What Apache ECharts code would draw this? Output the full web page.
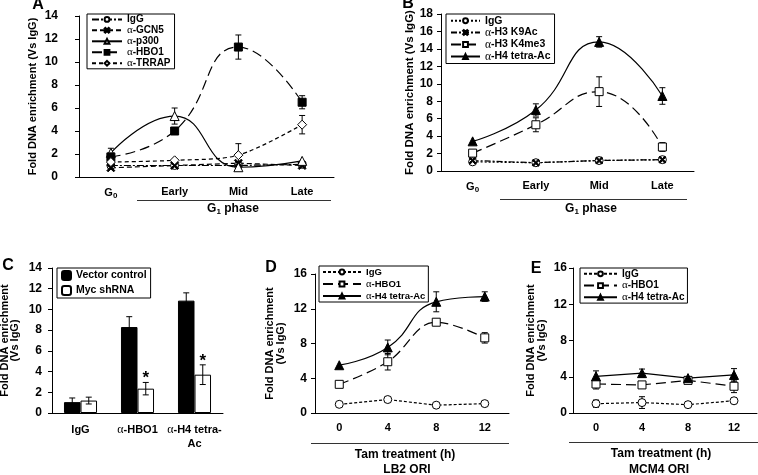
<!DOCTYPE html>
<html><head><meta charset="utf-8">
<script src="https://cdn.jsdelivr.net/npm/echarts@6/dist/echarts.min.js"></script>
<style>html,body{margin:0;padding:0;background:#fff}#c{width:758px;height:475px}</style>
</head><body><div id="c"></div>
<script>
const FONT = '"Liberation Sans", Arial, sans-serif';
const SERIF = '"Liberation Serif", "Times New Roman", serif';

// ---------- Panel A ----------
const phases = ['G0', 'Early', 'Mid', 'Late'];
const aIgG = [1.0, 1.0, 1.0, 1.1];
const aGCN5 = [0.8, 1.0, 1.2, 1.0];
const aP300 = [2.1, 5.3, 0.85, 1.4];
const aP300Err = [0.4, 0.7, 0, 0];
const aHBO1 = [1.75, 4.0, 11.3, 6.5];
const aHBO1Err = [0, 0, 1.05, 0.57];
const aTRRAP = [1.3, 1.45, 1.9, 4.55];
const aTRRAPErr = [0, 0, 1.0, 0.8];

// ---------- Panel B ----------
const bIgG = [1.05, 0.95, 1.2, 1.3];
const bK9Ac = [1.2, 0.95, 1.2, 1.3];
const bK4me3 = [2.05, 5.3, 9.1, 2.75];
const bK4me3Err = [0, 0.8, 1.7, 0.5];
const bH4 = [3.4, 7.0, 14.8, 8.6];
const bH4Err = [0, 0.7, 0.6, 0.95];

// ---------- Panel C ----------
const cCats = ['IgG', 'α-HBO1', 'α-H4 tetra-\nAc'];
const cVector = [1.05, 8.3, 10.85];
const cVectorErr = [0.4, 1.0, 0.75];
const cMyc = [1.2, 2.35, 3.7];
const cMycErr = [0.33, 0.6, 0.95];
const cSig = ['', '*', '*'];

// ---------- Panels D & E ----------
const hours = ['0', '4', '8', '12'];
const dIgG = [1.0, 1.55, 0.9, 1.08];
const dIgGErr = [0, 0.3, 0, 0];
const dHBO1 = [3.3, 5.9, 10.45, 8.65];
const dHBO1Err = [0.3, 0.95, 0, 0.6];
const dH4 = [5.5, 7.55, 12.8, 13.4];
const dH4Err = [0, 0.85, 1.15, 0.55];

const eIgG = [1.03, 1.15, 0.92, 1.35];
const eIgGErr = [0.4, 0.65, 0, 0];
const eHBO1 = [3.2, 3.1, 3.6, 2.95];
const eHBO1Err = [0.55, 0, 0, 0.7];
const eH4 = [4.05, 4.4, 3.85, 4.2];
const eH4Err = [0.6, 0.45, 0, 0.7];

const yTitle = 'Fold DNA enrichment (Vs IgG)';
const yTitle2 = 'Fold DNA enrichment\n(Vs IgG)';

const XSYM = 'path://M0,1.5L1.5,0L5,3.5L8.5,0L10,1.5L6.5,5L10,8.5L8.5,10L5,6.5L1.5,10L0,8.5L3.5,5Z';

const alphaRich = (size) => ({ a: { fontFamily: SERIF, fontWeight: 'normal', fontSize: size + 1, color: '#000' } });
const withAlpha = (s) => s.replace('α', '{a|α}');

function xCat(gi, data, extra) {
  return Object.assign({
    type: 'category', gridIndex: gi, data: data, boundaryGap: true,
    axisLine: { lineStyle: { color: '#000', width: 1 } },
    axisTick: { length: 5, lineStyle: { color: '#000' } },
    axisLabel: { color: '#000', fontWeight: 'bold', fontSize: 11, fontFamily: FONT, margin: 9, interval: 0 }
  }, extra || {});
}
function yVal(gi, max, interval, margin, nameGap, nameSize, name, lh) {
  return {
    type: 'value', gridIndex: gi, min: 0, max: max, interval: interval,
    name: name, nameLocation: 'middle', nameGap: nameGap, nameRotate: 90,
    nameTextStyle: { color: '#000', fontWeight: 'bold', fontSize: nameSize, fontFamily: FONT, lineHeight: lh || (nameSize + 1) },
    axisLine: { show: true, lineStyle: { color: '#000' } },
    axisTick: { show: true, length: 4, lineStyle: { color: '#000' } },
    splitLine: { show: false },
    axisLabel: { color: '#000', fontWeight: 'bold', fontSize: 12, fontFamily: FONT, margin: margin }
  };
}
function lineS(name, gi, data, dash, symbol, smooth, filled, size) {
  return {
    type: 'line', name: name, xAxisIndex: gi, yAxisIndex: gi, data: data,
    smooth: smooth, symbol: symbol, symbolSize: size || 8, z: 3,
    lineStyle: { color: '#000', width: 1.2, type: dash },
    itemStyle: { color: filled ? '#000' : '#fff', borderColor: '#000', borderWidth: 1 }
  };
}
function errS(gi, vals, errs, offset, marks) {
  return {
    type: 'custom', xAxisIndex: gi, yAxisIndex: gi, z: 2, silent: true,
    data: vals.map((v, i) => [i, v - errs[i], v + errs[i]]),
    encode: { x: 0, y: [1, 2] },
    renderItem: function (params, api) {
      const i = params.dataIndex;
      const children = [];
      const band = api.size([1, 0])[0];
      const top = api.coord([api.value(0), api.value(2)]);
      const bot = api.coord([api.value(0), api.value(1)]);
      const cx = top[0] + (offset || 0) * band;
      const st = { stroke: '#000', lineWidth: 1 };
      if (errs[i] > 0) {
        children.push({ type: 'line', shape: { x1: cx, y1: top[1], x2: cx, y2: bot[1] }, style: st });
        children.push({ type: 'line', shape: { x1: cx - 3, y1: top[1], x2: cx + 3, y2: top[1] }, style: st });
        children.push({ type: 'line', shape: { x1: cx - 3, y1: bot[1], x2: cx + 3, y2: bot[1] }, style: st });
      }
      if (marks && marks[i]) {
        children.push({ type: 'text', x: cx, y: top[1] - 4,
          style: { text: marks[i], textAlign: 'center', textVerticalAlign: 'middle', font: 'bold 17px ' + FONT, fill: '#000' } });
      }
      return { type: 'group', children: children };
    }
  };
}
function legendOf(left, top, names, size, lh, opts) {
  return Object.assign({
    orient: 'vertical', left: left, top: top, data: names,
    formatter: n => withAlpha(n.slice(2)),
    borderColor: '#000', borderWidth: 1, borderRadius: 0,
    padding: [1, 4, 1, 4], itemGap: 0, itemWidth: 30, itemHeight: 6,
    selectedMode: false,
    textStyle: { color: '#000', fontWeight: 'bold', fontSize: size, fontFamily: FONT, lineHeight: lh, rich: alphaRich(size) }
  }, opts || {});
}

const phaseLabel = {
  formatter: v => v === 'G0' ? '{g|G}{s|0}' : v,
  rich: {
    g: { fontSize: 11, fontWeight: 'bold', fontFamily: FONT, color: '#000' },
    s: { fontSize: 8, fontWeight: 'bold', fontFamily: FONT, color: '#000', padding: [6, 0, 0, 0] }
  }
};

const chart = echarts.init(document.getElementById('c'));
const richSub = {
  g: { font: 'bold 12px ' + FONT, fill: '#000' },
  s: { font: 'bold 8px ' + FONT, fill: '#000', padding: [6, 0, 0, 0] }
};
function gtext(x, y, text, size, rich) {
  return { type: 'text', x: x, y: y, silent: true,
    style: { text: text, textAlign: 'center', textVerticalAlign: 'middle', font: 'bold ' + size + 'px ' + FONT, fill: '#000', rich: rich } };
}
function gline(x1, y1, x2, y2) {
  return { type: 'line', silent: true, shape: { x1: x1, y1: y1, x2: x2, y2: y2 }, style: { stroke: '#333', lineWidth: 1 } };
}
function gridAt(left, top, width, height) {
  return { left: left, top: top, width: width, height: height, containLabel: false, outerBoundsMode: 'none' };
}

chart.setOption({
  animation: false,
  backgroundColor: '#fff',
  grid: [
    gridAt(79, 16, 255, 161),
    gridAt(441, 14, 253, 157),
    gridAt(52, 268, 171, 145),
    gridAt(315, 274, 194, 139),
    gridAt(573, 268, 184, 145)
  ],
  xAxis: [
    xCat(0, phases, { axisLabel: Object.assign({ color: '#000', fontWeight: 'bold', fontSize: 11, fontFamily: FONT, margin: 9, interval: 0 }, phaseLabel) }),
    xCat(1, phases, { axisLabel: Object.assign({ color: '#000', fontWeight: 'bold', fontSize: 11, fontFamily: FONT, margin: 9, interval: 0 }, phaseLabel) }),
    xCat(2, cCats, { axisLabel: { color: '#000', fontWeight: 'bold', fontSize: 11, fontFamily: FONT, margin: 10, interval: 0, lineHeight: 14,
      formatter: v => withAlpha(v), rich: { a: { fontFamily: SERIF, fontWeight: 'normal', fontSize: 12, color: '#000', lineHeight: 14 } } } }),
    xCat(3, hours),
    xCat(4, hours)
  ],
  yAxis: [
    yVal(0, 14, 2, 21, 40, 11, yTitle),
    yVal(1, 18, 2, 8, 24, 11.5, yTitle),
    yVal(2, 14, 2, 10, 32, 11, yTitle2, 10),
    yVal(3, 16, 4, 8, 29, 11, yTitle2, 10.5),
    yVal(4, 16, 4, 6, 26, 11, yTitle2, 10.5)
  ],
  legend: [
    legendOf(87, 14, ['A:IgG', 'A:α-GCN5', 'A:α-p300', 'A:α-HBO1', 'A:α-TRRAP'], 10, 10.8, { padding: [0, 4, 0, 4] }),
    legendOf(446, 14, ['B:IgG', 'B:α-H3 K9Ac', 'B:α-H3 K4me3', 'B:α-H4 tetra-Ac'], 10.5, 11.5, { itemWidth: 29 }),
    legendOf(57, 268, ['C:Vector control', 'C:Myc shRNA'], 10.5, 15, { itemWidth: 9, itemHeight: 9, padding: [0, 4, 0, 4] }),
    legendOf(319, 266, ['D:IgG', 'D:α-HBO1', 'D:α-H4 tetra-Ac'], 9.5, 12, { itemWidth: 38, padding: [0, 3, 0, 3] }),
    legendOf(580, 268, ['E:IgG', 'E:α-HBO1', 'E:α-H4 tetra-Ac'], 10, 11.7, { itemWidth: 33, padding: [0, 3, 0, 3] })
  ],
  series: [
    // A
    errS(0, aP300, aP300Err), errS(0, aHBO1, aHBO1Err), errS(0, aTRRAP, aTRRAPErr),
    lineS('A:IgG', 0, aIgG, [7, 2, 2, 2], 'circle', false, false, 8),
    lineS('A:α-GCN5', 0, aGCN5, [5, 3], XSYM, false, true, 8),
    lineS('A:α-p300', 0, aP300, 'solid', 'triangle', 0.5, false, 9),
    lineS('A:α-HBO1', 0, aHBO1, [10, 5], 'rect', 0.5, true, 8),
    lineS('A:α-TRRAP', 0, aTRRAP, [4, 3], 'diamond', 0.3, false, 9),
    // B
    errS(1, bK4me3, bK4me3Err), errS(1, bH4, bH4Err),
    lineS('B:IgG', 1, bIgG, [2, 2], 'circle', false, false, 8),
    lineS('B:α-H3 K9Ac', 1, bK9Ac, [6, 2, 2, 2], XSYM, false, true, 7),
    lineS('B:α-H3 K4me3', 1, bK4me3, [10, 5], 'rect', 0.5, false, 8),
    lineS('B:α-H4 tetra-Ac', 1, bH4, 'solid', 'triangle', 0.5, true, 9),
    // C
    { type: 'bar', name: 'C:Vector control', xAxisIndex: 2, yAxisIndex: 2, data: cVector,
      barGap: '0%', barCategoryGap: '42%', itemStyle: { color: '#000', borderColor: '#000', borderWidth: 1 } },
    { type: 'bar', name: 'C:Myc shRNA', xAxisIndex: 2, yAxisIndex: 2, data: cMyc,
      barGap: '0%', barCategoryGap: '42%', itemStyle: { color: '#fff', borderColor: '#000', borderWidth: 1 } },
    Object.assign(errS(2, cVector, cVectorErr, -0.145), { z: 4 }),
    Object.assign(errS(2, cMyc, cMycErr, 0.145, cSig), { z: 4 }),
    // D
    errS(3, dIgG, dIgGErr), errS(3, dHBO1, dHBO1Err), errS(3, dH4, dH4Err),
    lineS('D:IgG', 3, dIgG, [3, 2], 'circle', false, false, 8),
    lineS('D:α-HBO1', 3, dHBO1, [10, 5], 'rect', 0.4, false, 8),
    lineS('D:α-H4 tetra-Ac', 3, dH4, 'solid', 'triangle', 0.5, true, 9),
    // E
    errS(4, eIgG, eIgGErr), errS(4, eHBO1, eHBO1Err), errS(4, eH4, eH4Err),
    lineS('E:IgG', 4, eIgG, [3, 2], 'circle', false, false, 8),
    lineS('E:α-HBO1', 4, eHBO1, [10, 5], 'rect', false, false, 8),
    lineS('E:α-H4 tetra-Ac', 4, eH4, 'solid', 'triangle', false, true, 9)
  ],
  graphic: [
    gtext(38, 5, 'A', 16), gtext(408, 4, 'B', 16), gtext(8, 266, 'C', 16),
    gtext(271, 268, 'D', 16), gtext(536, 269, 'E', 16),
    gline(137, 200.5, 331, 200.5), gline(500, 199.5, 687, 199.5),
    gline(311, 443.5, 509, 443.5), gline(569, 442.5, 758, 442.5),
    gtext(233, 209, '{g|G}{s|1}{g| phase}', 12, richSub),
    gtext(591, 209, '{g|G}{s|1}{g| phase}', 12, richSub),
    gtext(405, 455, 'Tam treatment (h)', 12), gtext(407, 470, 'LB2 ORI', 12),
    gtext(661, 454, 'Tam treatment (h)', 12), gtext(659, 470, 'MCM4 ORI', 12)
  ]
});
</script></body></html>
